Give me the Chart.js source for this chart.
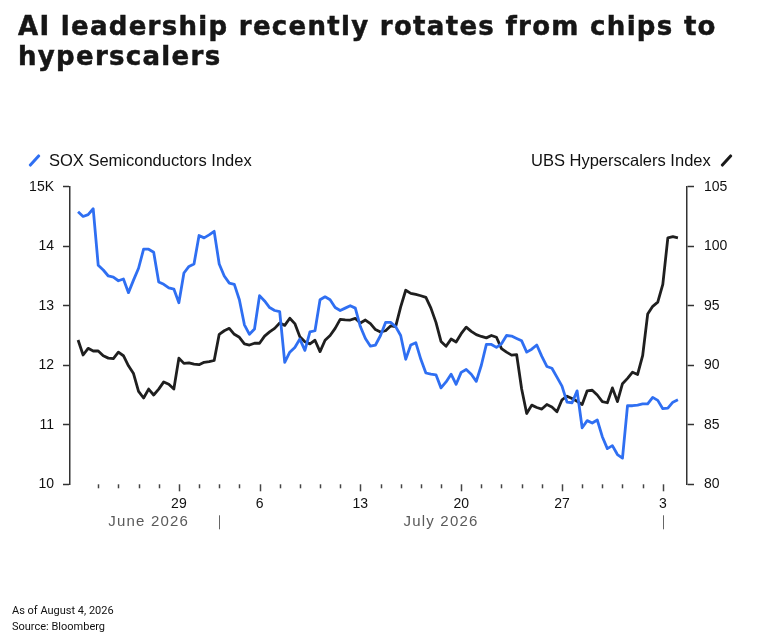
<!DOCTYPE html>
<html>
<head>
<meta charset="utf-8">
<script src="https://cdn.jsdelivr.net/npm/chart.js@4.4.1/dist/chart.umd.min.js"></script>
<style>
  html, body { margin: 0; padding: 0; background: #fff; }
  #wrap { position: relative; width: 766px; height: 640px; overflow: hidden; }
  #chart { position: absolute; left: 0; top: 0; }
  .title {
    position: absolute; left: 18px; top: 11px;
    font-family: "DejaVu Sans", sans-serif; font-weight: bold;
    font-size: 26px; line-height: 30px; letter-spacing: 1.3px; color: #161616;
    -webkit-text-stroke: 0.5px #161616;
  }
  .legend {
    position: absolute; top: 150px;
    font-family: "Liberation Sans", Arial, sans-serif; font-size: 16.5px; color: #111;
    line-height: 20px; white-space: nowrap;
  }
  .slash {
    display: inline-block; width: 3px; height: 15px; vertical-align: -2px;
    transform: rotate(42deg); border-radius: 1px;
  }
  .foot {
    position: absolute; left: 12px; top: 603px;
    font-family: Roboto, sans-serif; font-size: 11px; line-height: 16px; color: #111;
  }
</style>
</head>
<body>
<div id="wrap">
  <canvas id="chart" width="766" height="640"></canvas>
  <div class="title">AI leadership recently rotates from chips to<br>hyperscalers</div>
  <div class="legend" style="left:33px"><span class="slash" style="background:#2f6ff2"></span><span style="margin-left:13px">SOX Semiconductors Index</span></div>
  <div class="legend" style="left:531px"><span>UBS Hyperscalers Index</span><span class="slash" style="background:#1a1a1a;margin-left:14px"></span></div>
  <div class="foot">As of August 4, 2026<br>Source: Bloomberg</div>
</div>
<script>
// trading days shown on the x axis (Jul 3 market holiday)
const tradingDays = [
  "2026-06-22","2026-06-23","2026-06-24","2026-06-25","2026-06-26",
  "2026-06-29","2026-06-30","2026-07-01","2026-07-02",
  "2026-07-06","2026-07-07","2026-07-08","2026-07-09","2026-07-10",
  "2026-07-13","2026-07-14","2026-07-15","2026-07-16","2026-07-17",
  "2026-07-20","2026-07-21","2026-07-22","2026-07-23","2026-07-24",
  "2026-07-27","2026-07-28","2026-07-29","2026-07-30","2026-07-31",
  "2026-08-03","2026-08-04"
];
const monthLabels = ["June 2026", "July 2026"];
const samplesPerDay = 4;

// SOX Semiconductors Index, thousands (left axis), 4 readings per trading day
const soxValues = [
  14.58, 14.50, 14.53, 14.63, 13.68, 13.60, 13.50, 13.48, 13.42, 13.45, 13.22, 13.43,
  13.63, 13.95, 13.95, 13.90, 13.40, 13.36, 13.30, 13.28, 13.05, 13.55, 13.66, 13.70,
  14.18, 14.14, 14.19, 14.25, 13.70, 13.50, 13.38, 13.36, 13.10, 12.68, 12.52, 12.61,
  13.17, 13.08, 12.97, 12.92, 12.90, 12.05, 12.22, 12.30, 12.44, 12.25, 12.56, 12.58,
  13.10, 13.15, 13.10, 12.97, 12.92, 12.96, 13.00, 12.96, 12.65, 12.45, 12.32, 12.34,
  12.50, 12.72, 12.72, 12.65, 12.50, 12.10, 12.34, 12.38, 12.10, 11.87, 11.85, 11.84,
  11.62, 11.72, 11.85, 11.68, 11.88, 11.93, 11.85, 11.73, 12.00, 12.35, 12.35, 12.30,
  12.36, 12.50, 12.49, 12.45, 12.41, 12.22, 12.27, 12.34, 12.15, 11.98, 11.95, 11.80,
  11.65, 11.38, 11.37, 11.57, 10.95, 11.07, 11.03, 11.08, 10.80, 10.60, 10.65, 10.50,
  10.44, 11.32, 11.32, 11.33, 11.35, 11.35, 11.46, 11.41, 11.27, 11.28, 11.38, 11.42
];

// UBS Hyperscalers Index (right axis)
const hyperValues = [
  92.12, 90.86, 91.42, 91.20, 91.20, 90.80, 90.60, 90.55, 91.10, 90.80, 89.95, 89.30,
  87.80, 87.25, 88.00, 87.50, 88.00, 88.60, 88.40, 88.00, 90.60, 90.16, 90.20, 90.10,
  90.05, 90.25, 90.30, 90.40, 92.60, 92.90, 93.10, 92.60, 92.35, 91.80, 91.70, 91.85,
  91.85, 92.45, 92.80, 93.10, 93.55, 93.35, 93.95, 93.50, 92.40, 91.97, 91.80, 92.10,
  91.15, 92.10, 92.50, 93.10, 93.85, 93.82, 93.80, 93.94, 93.55, 93.80, 93.50, 93.00,
  92.80, 92.90, 93.30, 93.25, 94.90, 96.30, 96.04, 95.95, 95.84, 95.70, 94.80, 93.60,
  92.00, 91.60, 92.20, 91.95, 92.65, 93.20, 92.85, 92.57, 92.42, 92.30, 92.50, 92.35,
  91.40, 91.10, 90.85, 90.90, 88.00, 85.95, 86.65, 86.45, 86.32, 86.70, 86.50, 86.10,
  87.10, 87.40, 87.20, 86.97, 86.70, 87.85, 87.90, 87.50, 86.95, 86.85, 88.10, 86.95,
  88.45, 88.90, 89.42, 89.23, 90.80, 94.30, 94.95, 95.30, 96.80, 100.70, 100.80, 100.70
];

const soxTicks = [10, 11, 12, 13, 14, 15];
const hyperTicks = [80, 85, 90, 95, 100, 105];

const SOX_BLUE = "#2f6ff2";
const HYPER_BLACK = "#1f1f1f";
const AXIS = "#333";
const TICK_FONT = { family: "Liberation Sans, Arial, sans-serif", size: 14 };

const toPoints = vals => vals.map((v, i) => ({ x: i / samplesPerDay, y: v }));
const dayOf = i => new Date(tradingDays[i] + "T00:00:00Z");
const isWeekStart = i => i > 0 && dayOf(i).getUTCDay() < dayOf(i - 1).getUTCDay();
const isMonthStart = i => i > 0 && dayOf(i).getUTCMonth() !== dayOf(i - 1).getUTCMonth();

// draws day ticks (long on week starts), month separators and month names
const timeAxisExtras = {
  id: "timeAxisExtras",
  afterDraw(chart) {
    const xs = chart.scales.x;
    const ctx = chart.ctx;
    ctx.save();
    ctx.strokeStyle = "#444";
    ctx.lineWidth = 1.5;
    for (let i = 1; i < tradingDays.length - 1; i++) {
      const px = Math.round(xs.getPixelForValue(i)) + 0.5;
      const len = isWeekStart(i) ? 7 : 4;
      ctx.beginPath();
      ctx.moveTo(px, xs.top);
      ctx.lineTo(px, xs.top + len);
      ctx.stroke();
    }
    const bounds = [0];
    for (let i = 1; i < tradingDays.length; i++) if (isMonthStart(i)) bounds.push(i);
    ctx.strokeStyle = "#666";
    ctx.lineWidth = 1;
    bounds.slice(1).forEach(i => {
      const px = Math.round(xs.getPixelForValue(i)) + 0.5;
      ctx.beginPath();
      ctx.moveTo(px, xs.top + 31);
      ctx.lineTo(px, xs.top + 45);
      ctx.stroke();
    });
    ctx.fillStyle = "#5a5a5a";
    ctx.font = "15px Liberation Sans, Arial, sans-serif";
    ctx.letterSpacing = "1.2px";
    ctx.textAlign = "center";
    ctx.textBaseline = "middle";
    monthLabels.forEach((name, k) => {
      if (k + 1 >= bounds.length) return;
      const a = xs.getPixelForValue(bounds[k]);
      const b = xs.getPixelForValue(bounds[k + 1]);
      ctx.fillText(name, (a + b) / 2, xs.top + 38);
    });
    ctx.restore();
  }
};

new Chart(document.getElementById("chart").getContext("2d"), {
  type: "line",
  data: {
    datasets: [
      {
        label: "SOX Semiconductors Index",
        data: toPoints(soxValues),
        yAxisID: "y",
        borderColor: SOX_BLUE,
        borderWidth: 2.8,
        pointRadius: 0,
        tension: 0,
        borderJoinStyle: "round",
        order: 1
      },
      {
        label: "UBS Hyperscalers Index",
        data: toPoints(hyperValues),
        yAxisID: "y1",
        borderColor: HYPER_BLACK,
        borderWidth: 2.8,
        pointRadius: 0,
        tension: 0,
        borderJoinStyle: "round",
        order: 2
      }
    ]
  },
  options: {
    responsive: false,
    animation: false,
    layout: { padding: { top: 186.7, bottom: 115.7, left: 0, right: 0 } },
    plugins: {
      legend: { display: false },
      tooltip: { enabled: false }
    },
    scales: {
      x: {
        type: "linear",
        min: -0.4,
        max: 30.2,
        afterFit: s => { s.height = 40; },
        afterBuildTicks: s => {
          s.ticks = tradingDays.map((d, i) => ({ value: i })).filter(t => t.value >= 1 && t.value <= tradingDays.length - 2);
        },
        border: { display: false },
        grid: { display: true, drawOnChartArea: false, drawTicks: true, tickLength: 7, tickColor: "rgba(0,0,0,0)" },
        ticks: {
          autoSkip: false,
          maxRotation: 0,
          padding: 4,
          color: "#111",
          font: TICK_FONT,
          callback: v => isWeekStart(v) ? String(dayOf(v).getUTCDate()) : ""
        }
      },
      y: {
        position: "left",
        min: soxTicks[0],
        max: soxTicks[soxTicks.length - 1],
        afterFit: s => { s.width = 70; },
        afterBuildTicks: s => { s.ticks = soxTicks.map(v => ({ value: v })); },
        border: { display: true, color: AXIS, width: 1.5 },
        grid: { drawOnChartArea: false, drawTicks: true, tickLength: 7, tickColor: AXIS, tickWidth: 1.5 },
        ticks: {
          padding: 9,
          color: "#111",
          font: TICK_FONT,
          callback: v => v === soxTicks[soxTicks.length - 1] ? v + "K" : String(v)
        }
      },
      y1: {
        position: "right",
        min: hyperTicks[0],
        max: hyperTicks[hyperTicks.length - 1],
        afterFit: s => { s.width = 79; },
        afterBuildTicks: s => { s.ticks = hyperTicks.map(v => ({ value: v })); },
        border: { display: true, color: AXIS, width: 1.5 },
        grid: { drawOnChartArea: false, drawTicks: true, tickLength: 7, tickColor: AXIS, tickWidth: 1.5 },
        ticks: {
          padding: 10,
          color: "#111",
          font: TICK_FONT,
          callback: v => String(v)
        }
      }
    }
  },
  plugins: [timeAxisExtras]
});
</script>
</body>
</html>
